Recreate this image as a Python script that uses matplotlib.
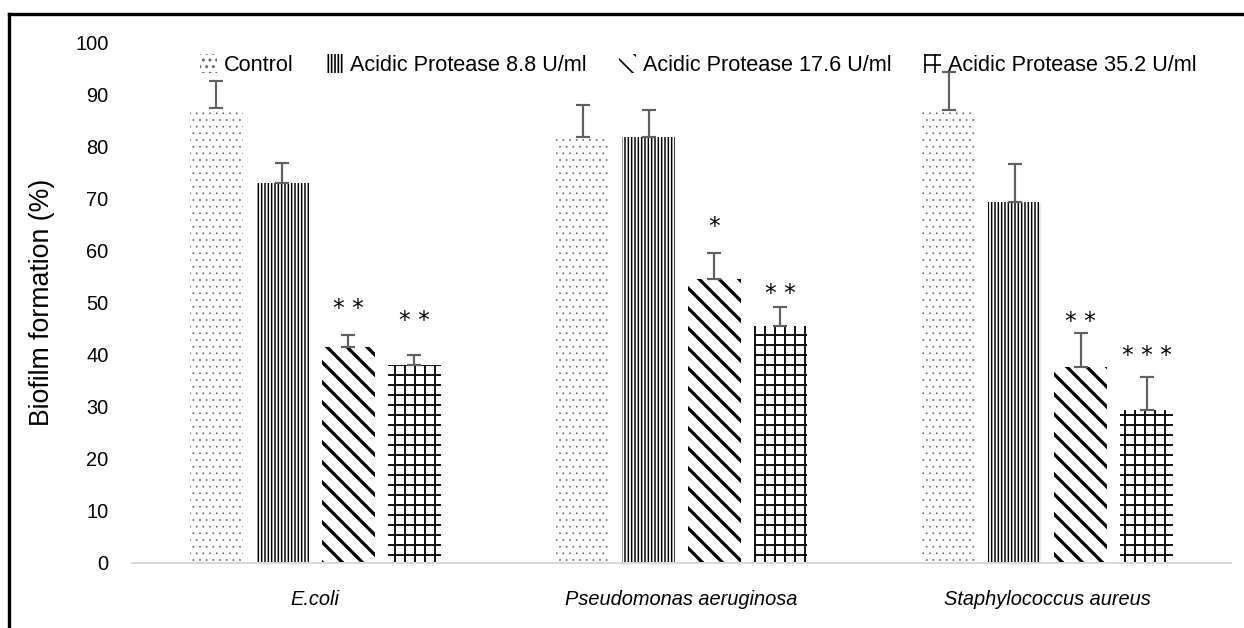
import numpy as np
import matplotlib
matplotlib.use("Agg")
import matplotlib.pyplot as plt
from matplotlib.patches import Patch
from matplotlib.lines import Line2D

plt.rcParams['font.family'] = ['Liberation Sans', 'DejaVu Sans']

# data
bacteria = ["E.coli", "Pseudomonas aeruginosa", "Staphylococcus aureus"]
series = ["Control", "Acidic Protease 8.8 U/ml",
          "Acidic Protease 17.6 U/ml", "Acidic Protease 35.2 U/ml"]

control = [87.3, 81.8, 86.9]
ap_8_8 = [72.9, 81.7, 69.2]
ap_17_6 = [41.5, 54.5, 37.7]
ap_35_2 = [38.0, 45.5, 29.4]

err_control = [5.3, 6.2, 7.4]
err_8_8 = [3.8, 5.2, 7.4]
err_17_6 = [2.3, 5.0, 6.4]
err_35_2 = [1.9, 3.6, 6.3]

# significance marks and their heights
stars_17_6 = ["* *", "*", "* *"]
stars_35_2 = ["* *", "* *", "* * *"]
stars_17_6_y = [48.9, 64.5, 46.3]
stars_35_2_y = [46.6, 51.8, 39.9]

values = [control, ap_8_8, ap_17_6, ap_35_2]
errors = [err_control, err_8_8, err_17_6, err_35_2]
hatches = ["...", "||||||", "\\\\", "++"]
hatch_lw = [0.3, 0.9, 2.0, 1.1]
hatch_col = ["#666666", "black", "black", "black"]

fig = plt.figure(figsize=(1244 / 120, 628 / 120), dpi=120)
ax = fig.add_axes([132 / 1244, 1 - 563 / 628, (1231 - 132) / 1244, (563 - 42) / 628])

x = np.arange(len(bacteria))
width = 0.145
step = 0.18

handles = []
for i in range(4):
    pos = x + (i - 1.5) * step
    with plt.rc_context({'hatch.linewidth': hatch_lw[i]}):
        bars = ax.bar(pos, values[i], width, color="white",
                      edgecolor=hatch_col[i], linewidth=0, hatch=hatches[i])
        for b in bars:
            if hasattr(b, "set_hatch_linewidth"):
                b.set_hatch_linewidth(hatch_lw[i])
        h = Patch(facecolor="white", edgecolor=hatch_col[i], linewidth=0,
                  hatch=hatches[i])
        if hasattr(h, "set_hatch_linewidth"):
            h.set_hatch_linewidth(hatch_lw[i])
    handles.append(h)
    ax.errorbar(pos, values[i], yerr=[np.zeros(3), errors[i]], fmt="none",
                ecolor="#606060", elinewidth=1.3, capsize=4, capthick=1.3)

for j in range(3):
    ax.text(x[j] + 0.5 * step, stars_17_6_y[j], stars_17_6[j], ha="center",
            va="center", fontsize=14, family="DejaVu Sans")
    ax.text(x[j] + 1.5 * step, stars_35_2_y[j], stars_35_2[j], ha="center",
            va="center", fontsize=14, family="DejaVu Sans")

ax.set_xlim(-0.5, 2.5)
ax.set_ylim(0, 100)
ax.set_yticks(np.arange(0, 101, 10))
ax.set_xticks(x)
ax.set_xticklabels(bacteria, fontstyle="italic", fontsize=12)
ax.tick_params(axis="y", labelsize=12, length=0, pad=14)
ax.tick_params(axis="x", length=0, pad=16)
for s in ["top", "right", "left"]:
    ax.spines[s].set_visible(False)
ax.spines["bottom"].set_color("#d9d9d9")
ax.spines["bottom"].set_linewidth(1.2)
ax.set_ylabel("Biofilm formation (%)", fontsize=16, labelpad=12)

ax.legend(handles, series, loc="upper center", bbox_to_anchor=(0.515, 1.015),
          ncol=4, frameon=False, fontsize=13, handlelength=0.8,
          handleheight=1.0, handletextpad=0.3, columnspacing=1.5)

# outer frame (left and top only visible)
fig.add_artist(Line2D([9 / 1244, 9 / 1244], [0, 1 - 14 / 628], color="black",
                      linewidth=2, transform=fig.transFigure))
fig.add_artist(Line2D([9 / 1244, 1], [1 - 14 / 628, 1 - 14 / 628], color="black",
                      linewidth=2, transform=fig.transFigure))

fig.savefig("out.png", dpi=120)
